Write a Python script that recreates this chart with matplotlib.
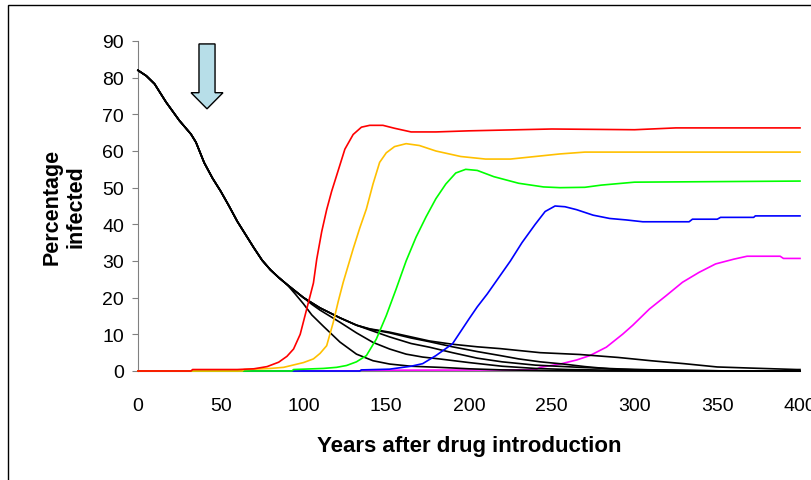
import numpy as np
import matplotlib
matplotlib.use('Agg')
import matplotlib.pyplot as plt
from matplotlib.patches import FancyArrow, Rectangle

plt.rcParams['font.family'] = ['Liberation Sans', 'DejaVu Sans']

# drug-sensitive infection (black), shared part before the curves split
sens_x_common = [0, 5, 10, 17, 25, 32, 35, 40, 45, 50, 55, 60, 65, 70, 75, 80, 85, 90]
sens_y_common = [82, 80.5, 78.3, 73.3, 68.3, 64.6, 62.4, 56.8, 52.6, 49, 45, 40.8, 37.2, 33.6, 30.2, 27.6, 25.5, 23.6]

sens_a_x = [95, 100, 105, 112, 122, 132, 142, 152, 165, 182, 200, 220, 250, 280, 400]
sens_a_y = [21.0, 18.3, 15.3, 12.2, 7.9, 4.6, 2.8, 1.9, 1.3, 1.0, 0.6, 0.3, 0.1, 0, 0]
sens_b_x = [95, 100, 105, 110, 122, 132, 142, 152, 162, 172, 182, 200, 220, 240, 260, 290, 320, 400]
sens_b_y = [21.8, 20.0, 18.2, 16.6, 13.3, 10.4, 7.8, 6.0, 4.6, 3.8, 3.3, 2.3, 1.3, 0.7, 0.4, 0.2, 0, 0]
sens_c_x = [95, 100, 110, 122, 132, 140, 152, 165, 176, 190, 205, 220, 240, 267, 300, 340, 360, 400]
sens_c_y = [21.8, 20.0, 17.2, 14.5, 12.5, 11.2, 9.3, 7.5, 6.5, 5.0, 3.5, 2.5, 1.6, 1.0, 0.4, 0.1, 0, 0]
sens_d_x = [95, 100, 110, 122, 132, 140, 152, 165, 176, 190, 205, 219, 230, 243, 257, 270, 287, 310, 345, 360, 400]
sens_d_y = [21.8, 20.0, 17.2, 14.5, 12.5, 11.4, 10.4, 9.0, 8.0, 6.6, 5.3, 4.2, 3.3, 2.5, 1.9, 1.2, 0.5, 0.3, 0.1, 0, 0]
sens_e_x = [95, 100, 110, 122, 132, 140, 152, 165, 176, 190, 205, 219, 243, 267, 290, 310, 330, 350, 370, 398, 400]
sens_e_y = [21.8, 20.0, 17.2, 14.5, 12.5, 11.5, 10.6, 9.3, 8.2, 7.3, 6.6, 6.1, 5.0, 4.5, 3.7, 2.8, 2.0, 1.1, 0.8, 0.4, 0.4]

# resistant infection (coloured)
red_x = [0, 32, 33, 60, 70, 78, 85, 90, 94, 98, 102, 106, 108, 111, 114, 117, 120, 125, 130, 135, 140, 148,
         155, 165, 180, 200, 230, 250, 300, 325, 400]
red_y = [0, 0, 0.4, 0.4, 0.6, 1.2, 2.4, 4, 6, 10, 17, 24, 30.5, 38, 44, 49, 53.3, 60.5, 64.5, 66.5, 67, 67,
         66.2, 65.2, 65.2, 65.5, 65.8, 66, 65.8, 66.3, 66.3]
yellow_x = [0, 63, 64, 80, 88, 100, 106, 110, 114, 118, 121, 124, 130, 134, 138, 142, 146, 150, 155, 162, 170,
            180, 195, 210, 225, 240, 255, 270, 400]
yellow_y = [0, 0, 0.4, 0.7, 1, 2.3, 3.3, 4.8, 6.9, 13.3, 19, 24.2, 33.3, 39, 44.2, 51, 56.9, 59.5, 61.2, 62, 61.5,
            60, 58.5, 57.8, 57.8, 58.5, 59.2, 59.7, 59.7]
green_x = [0, 93, 94, 112, 120, 126, 132, 138, 144, 150, 156, 162, 168, 174, 180, 186, 192, 198, 205, 215, 230,
           245, 255, 270, 280, 300, 400]
green_y = [0, 0, 0.4, 0.7, 1, 1.5, 2.5, 4.2, 8.7, 15.1, 22.4, 30, 36.5, 42, 47, 51, 54, 55, 54.7, 53, 51.2,
           50.2, 50, 50.1, 50.7, 51.5, 51.8]
blue_x = [0, 134, 135, 152, 165, 172, 180, 190, 200, 205, 211, 218, 225, 232, 240, 246, 252, 258, 265, 275, 285,
          295, 305, 333, 335, 350, 352, 372, 373, 400]
blue_y = [0, 0, 0.3, 0.5, 1.3, 2, 4.2, 7.4, 14.2, 17.5, 21, 25.5, 30, 35, 40, 43.5, 45, 44.8, 44, 42.5, 41.6,
          41.2, 40.7, 40.7, 41.4, 41.4, 41.9, 41.9, 42.3, 42.3]
magenta_x = [0, 134, 135, 240, 243, 255, 265, 273, 283, 293, 299, 309, 319, 329, 339, 349, 360, 368, 388, 390, 400]
magenta_y = [0, 0, 0.2, 0.3, 1.0, 1.9, 3, 4.2, 6.5, 10.1, 12.5, 16.9, 20.5, 24.2, 26.9, 29.2, 30.5, 31.3, 31.3,
             30.7, 30.7]

fig = plt.figure(figsize=(8.12, 4.81), dpi=100)
ax = fig.add_axes([138/812, 1-372/481, 662/812, 330/481])

lw = 1.2
for tx, ty in [(sens_a_x, sens_a_y), (sens_b_x, sens_b_y), (sens_c_x, sens_c_y),
               (sens_d_x, sens_d_y), (sens_e_x, sens_e_y)]:
    ax.plot(sens_x_common + tx, sens_y_common + ty, color='black', lw=lw, zorder=3, clip_on=False)

ax.plot(magenta_x, magenta_y, color='#FF00FF', lw=lw, zorder=2, clip_on=False)
ax.plot(blue_x, blue_y, color='#0000FF', lw=lw, zorder=4, clip_on=False)
ax.plot(green_x, green_y, color='#00FF00', lw=lw, zorder=5, clip_on=False)
ax.plot(yellow_x, yellow_y, color='#FFC000', lw=lw, zorder=6, clip_on=False)
ax.plot(red_x, red_y, color='#FF0000', lw=lw, zorder=7, clip_on=False)

# drug introduction arrow
ax.add_patch(FancyArrow(41.7, 89.2, 0, -17.7, width=9.7, head_width=19.3, head_length=4.4,
                        length_includes_head=True, fc='#B7DEE8', ec='black', lw=1, zorder=8, clip_on=False))

ax.set_xlim(0, 400)
ax.set_ylim(0, 90)
ax.set_xticks(np.arange(0, 401, 50))
ax.set_yticks(np.arange(0, 91, 10))
for s in ['top', 'right']:
    ax.spines[s].set_visible(False)
ax.spines['left'].set_color('#808080')
ax.spines['bottom'].set_color('#808080')
ax.tick_params(axis='y', length=4.5, color='#808080', labelsize=14, pad=5.5)
ax.tick_params(axis='x', length=0, labelsize=14, pad=18.5)

ax.set_xlabel('Years after drug introduction', fontsize=16, fontweight='bold', labelpad=15)
ax.set_ylabel('Percentage\ninfected', fontsize=15.5, fontweight='bold', labelpad=11)

# outer frame of the original chart
fig.patches.append(Rectangle((8/812, -0.1), 1.2, 1.1 - 6/481, transform=fig.transFigure,
                             fill=False, ec='black', lw=1))

fig.savefig('out.png', dpi=100)
